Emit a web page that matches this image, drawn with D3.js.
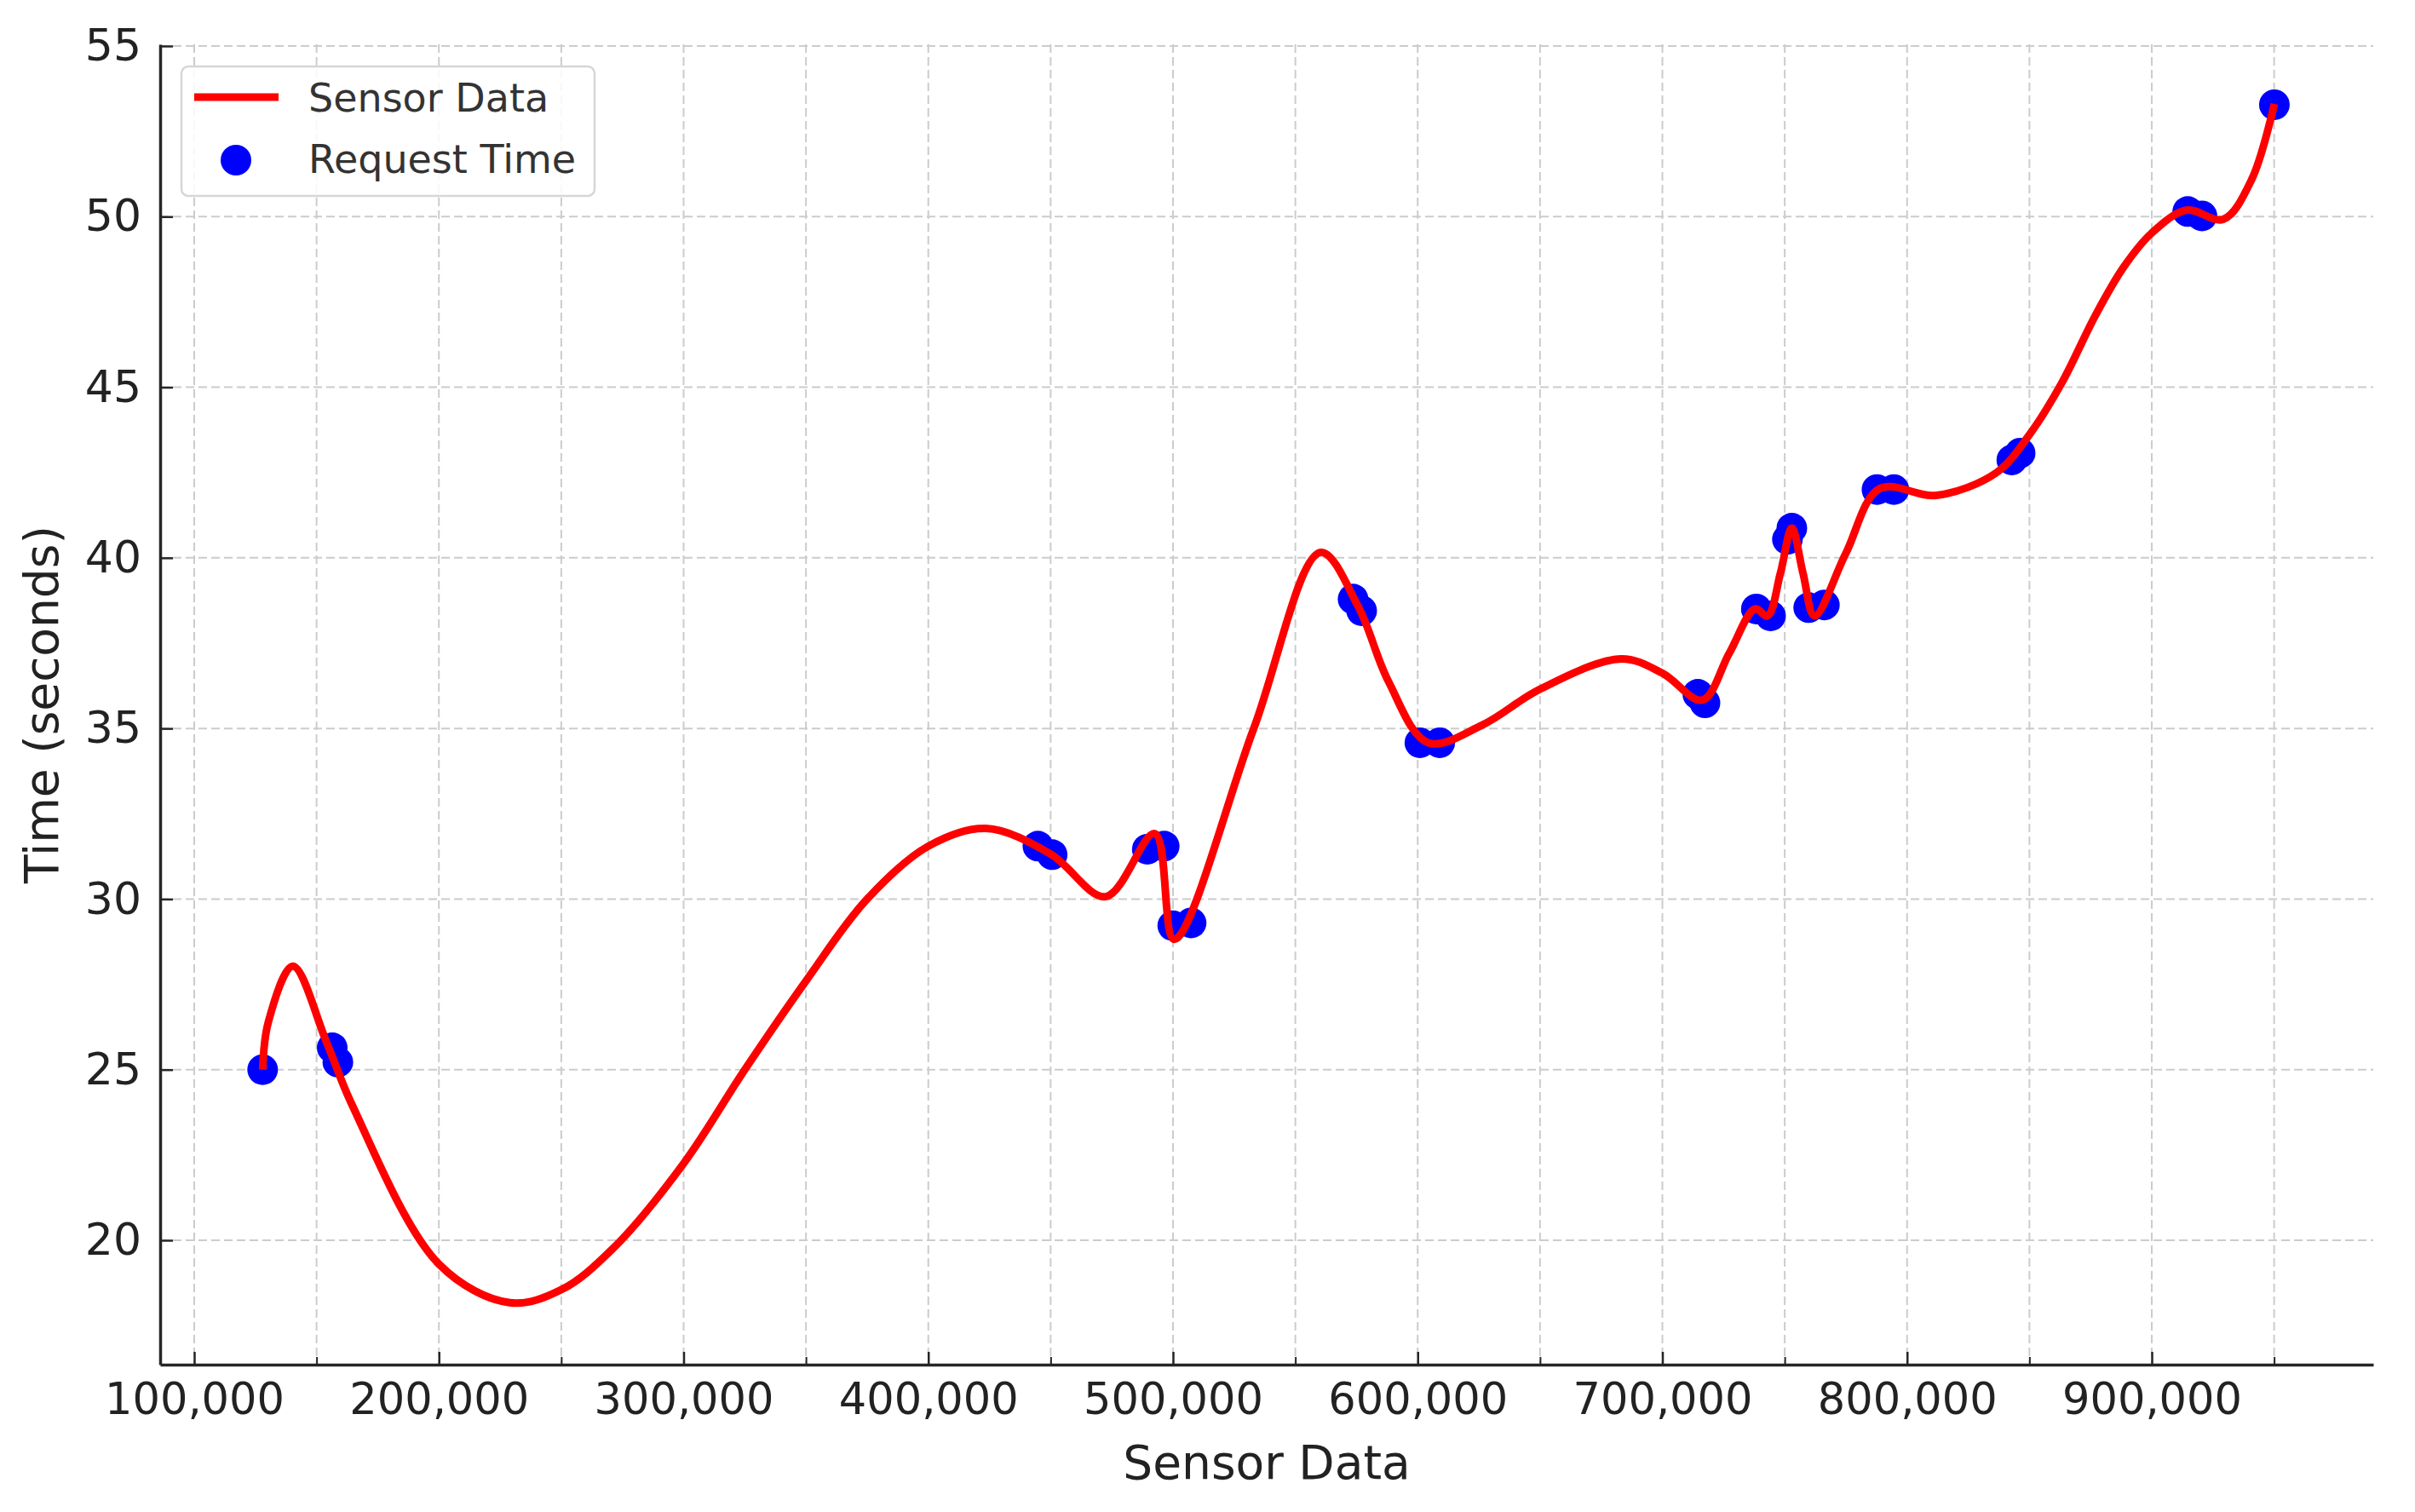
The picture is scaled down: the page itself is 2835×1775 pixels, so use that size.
<!DOCTYPE html>
<html>
<head>
<meta charset="utf-8">
<script src="https://cdn.jsdelivr.net/npm/d3@7/dist/d3.min.js"></script>
<style>
  html, body { margin: 0; padding: 0; background: #fff; }
  svg { display: block; }
  text { font-family: "DejaVu Sans", sans-serif; }
</style>
</head>
<body>
<svg id="chart" width="2835" height="1775"></svg>
<script>
// Scatter series "Request Time" (x: sensor data, y: seconds)
const requestX = [127960, 156400, 158700, 444800, 450600, 489500, 496400, 499900, 507400,
  573600, 577100, 600900, 609000, 714500, 717400, 738400, 744200, 751100, 752900,
  759800, 766200, 787700, 794600, 842800, 846200, 914700, 920500, 950100];
const requestY = [25.0, 25.64, 25.22, 31.55, 31.3, 31.46, 31.55, 29.22, 29.3,
  38.79, 38.45, 34.58, 34.58, 36.0, 35.75, 38.5, 38.3, 40.54, 40.87,
  38.54, 38.62, 42.0, 42.0, 42.87, 43.07, 50.15, 50.02, 53.28];

// Line series "Sensor Data"
const sensorX = [127960, 130300, 140300, 154100, 164500, 200000, 228900, 250000, 271000,
  300000, 325000, 350000, 375000, 400000, 423600, 450000, 472500, 492500, 500500,
  533000, 560300, 575500, 588100, 604300, 626400, 650000, 683200, 700000, 716300,
  727300, 737800, 743000, 748200, 752900, 757500, 762200, 774900, 788800, 812000,
  836400, 850000, 863100, 877000, 888600, 900000, 914200, 929200, 940900, 950100];
const sensorY = [25.0, 26.4, 28.03, 25.8, 23.97, 19.3, 18.17, 18.55, 19.75,
  22.25, 25.0, 27.6, 30.0, 31.55, 32.07, 31.32, 30.07, 31.92, 28.82,
  35.0, 40.16, 38.6, 36.37, 34.58, 35.1, 36.15, 37.04, 36.62, 35.83,
  37.2, 38.5, 38.3, 39.54, 40.87, 39.54, 38.3, 40.12, 42.03, 41.83,
  42.49, 43.61, 45.11, 47.11, 48.53, 49.52, 50.19, 49.92, 51.1, 53.3];

const xMajorTicks = [100000, 200000, 300000, 400000, 500000, 600000, 700000, 800000, 900000];
const xMinorTicks = [150000, 250000, 350000, 450000, 550000, 650000, 750000, 850000, 950000];
const yTicks = [20, 25, 30, 35, 40, 45, 50, 55];

const seriesNames = ["Sensor Data", "Request Time"];
const xLabel = "Sensor Data";
const yLabel = "Time (seconds)";

const plot = { left: 188, right: 2786, top: 52, bottom: 1602 };
const svg = d3.select("#chart");

const x = d3.scaleLinear().domain([86075, 990513]).range([plot.left, plot.right]);
const y = d3.scaleLinear().domain([16.355, 55.05]).range([plot.bottom, plot.top]);

const gridColor = "#cccccc";
const axisColor = "#262626";

// Grid
const grid = svg.append("g");
grid.selectAll("line.vx").data(xMajorTicks.concat(xMinorTicks)).enter().append("line")
  .attr("x1", d => x(d)).attr("x2", d => x(d))
  .attr("y1", plot.top).attr("y2", plot.bottom)
  .attr("stroke", gridColor).attr("stroke-width", 2).attr("stroke-dasharray", "10,5");
grid.selectAll("line.hy").data(yTicks).enter().append("line")
  .attr("x1", plot.left).attr("x2", plot.right)
  .attr("y1", d => y(d)).attr("y2", d => y(d))
  .attr("stroke", gridColor).attr("stroke-width", 2).attr("stroke-dasharray", "10,5");

// Scatter
const pts = requestX.map((v, i) => [v, requestY[i]]);
svg.append("g").selectAll("circle").data(pts).enter().append("circle")
  .attr("cx", d => x(d[0])).attr("cy", d => y(d[1])).attr("r", 18)
  .attr("fill", "#0000ff");

// Line
const linePts = sensorX.map((v, i) => [v, sensorY[i]]);
const line = d3.line().x(d => x(d[0])).y(d => y(d[1])).curve(d3.curveCatmullRom.alpha(0.5));
svg.append("path").datum(linePts)
  .attr("d", line).attr("fill", "none").attr("stroke", "#ff0000")
  .attr("stroke-width", 9).attr("stroke-linejoin", "round");

// Axes
const xAxis = d3.axisBottom(x).tickValues(xMajorTicks).tickFormat(d3.format(","))
  .tickSizeInner(-15).tickSizeOuter(0).tickPadding(22);
const gx = svg.append("g").attr("transform", `translate(0,${plot.bottom})`).call(xAxis);
gx.select(".domain").attr("stroke", axisColor).attr("stroke-width", 3.5);
gx.selectAll(".tick line").attr("stroke", axisColor).attr("stroke-width", 2.5);
gx.selectAll(".tick text").attr("font-size", 51).attr("fill", "#222")
  .attr("font-family", "DejaVu Sans");
const gxm = svg.append("g").attr("transform", `translate(0,${plot.bottom})`)
  .call(d3.axisBottom(x).tickValues(xMinorTicks).tickFormat("").tickSizeInner(-9).tickSizeOuter(0));
gxm.select(".domain").remove();
gxm.selectAll(".tick line").attr("stroke", axisColor).attr("stroke-width", 2);

const yAxis = d3.axisLeft(y).tickValues(yTicks).tickFormat(d3.format("d"))
  .tickSizeInner(-15).tickSizeOuter(0).tickPadding(22);
const gy = svg.append("g").attr("transform", `translate(${plot.left},0)`).call(yAxis);
gy.select(".domain").attr("stroke", axisColor).attr("stroke-width", 3.5);
gy.selectAll(".tick line").attr("stroke", axisColor).attr("stroke-width", 2.5);
gy.selectAll(".tick text").attr("font-size", 52).attr("fill", "#222")
  .attr("font-family", "DejaVu Sans");

// Axis labels
svg.append("text").attr("x", (plot.left + plot.right) / 2).attr("y", 1736)
  .attr("text-anchor", "middle").attr("font-size", 55).attr("fill", "#222").text(xLabel);
svg.append("text").attr("transform", `translate(68,${(plot.top + plot.bottom) / 2}) rotate(-90)`)
  .attr("text-anchor", "middle").attr("font-size", 55).attr("fill", "#222").text(yLabel);

// Legend
const lg = svg.append("g");
lg.append("rect").attr("x", 213).attr("y", 78).attr("width", 485).attr("height", 152)
  .attr("rx", 8).attr("fill", "#ffffff").attr("fill-opacity", 0.85)
  .attr("stroke", "#d6d6d6").attr("stroke-width", 2.5);
lg.append("line").attr("x1", 228).attr("x2", 327).attr("y1", 114).attr("y2", 114)
  .attr("stroke", "#ff0000").attr("stroke-width", 9);
lg.append("circle").attr("cx", 277).attr("cy", 188).attr("r", 18).attr("fill", "#0000ff");
lg.selectAll("text.lt").data(seriesNames).enter().append("text")
  .attr("x", 362).attr("y", (d, i) => 114 + i * 72).attr("dy", "0.36em")
  .attr("font-size", 46).attr("fill", "#333").text(d => d);
</script>
</body>
</html>
